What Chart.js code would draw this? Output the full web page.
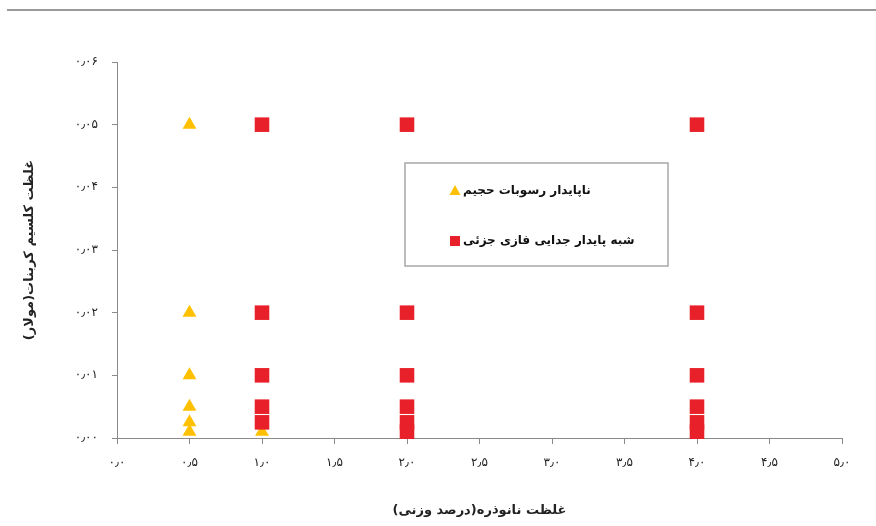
<!DOCTYPE html>
<html><head><meta charset="utf-8">
<script src="https://cdn.jsdelivr.net/npm/chart.js@4"></script>
<style>
html,body{margin:0;padding:0;background:#fff;}
#wrap{position:relative;width:876px;height:526px;}
canvas{display:block;}
</style>
</head><body>
<div id="wrap"><canvas id="c" width="876" height="526" dir="rtl"></canvas></div>
<script>
const xTickLabels = ['۰٫۰','۰٫۵','۱٫۰','۱٫۵','۲٫۰','۲٫۵','۳٫۰','۳٫۵','۴٫۰','۴٫۵','۵٫۰'];
const yTickLabels = ['۰٫۰۰','۰٫۰۱','۰٫۰۲','۰٫۰۳','۰٫۰۴','۰٫۰۵','۰٫۰۶'];
const seriesNames = ['ناپایدار رسوبات حجیم','شبه پایدار جدایی فازی جزئی'];
const xTitle = 'غلظت نانوذره(درصد وزنی)';
const yTitle = 'غلظت کلسیم کربنات(مولار)';

const unstableX = [0.5, 0.5, 0.5, 0.5, 0.5, 0.5, 1.0];
const unstableY = [0.05, 0.02, 0.01, 0.005, 0.0025, 0.001, 0.001];
const metaX = [1, 1, 1, 1, 1, 2, 2, 2, 2, 2, 2, 4, 4, 4, 4, 4, 4];
const metaY = [0.05, 0.02, 0.01, 0.005, 0.0025, 0.05, 0.02, 0.01, 0.005, 0.0025, 0.001, 0.05, 0.02, 0.01, 0.005, 0.0025, 0.001];

const YELLOW = '#FFC000';
const RED = '#E8202A';
const FONT = "'DejaVu Sans', sans-serif";

const toPts = (xs, ys) => xs.map((x, i) => ({x: x, y: ys[i]}));

const legendPlugin = {
  id: 'boxLegend',
  afterDraw(chart) {
    const ctx = chart.ctx;
    ctx.save();
    // top rule
    ctx.strokeStyle = '#9a9a9a';
    ctx.lineWidth = 2;
    ctx.beginPath(); ctx.moveTo(7, 10); ctx.lineTo(876, 10); ctx.stroke();
    // legend box
    ctx.strokeStyle = '#a8a8a8';
    ctx.lineWidth = 1.5;
    ctx.fillStyle = '#fff';
    ctx.fillRect(405, 163, 263, 103);
    ctx.strokeRect(405, 163, 263, 103);
    // markers
    const ty = 191, sy = 241, mx = 455;
    ctx.fillStyle = YELLOW;
    ctx.beginPath();
    ctx.moveTo(mx, ty - 6); ctx.lineTo(mx + 5.5, ty + 4); ctx.lineTo(mx - 5.5, ty + 4); ctx.closePath(); ctx.fill();
    ctx.fillStyle = RED;
    ctx.fillRect(mx - 5, sy - 5, 10, 10);
    // text
    ctx.fillStyle = '#111';
    ctx.font = "bold 12px " + FONT;
    ctx.direction = 'rtl';
    ctx.textAlign = 'left';
    ctx.textBaseline = 'middle';
    ctx.fillText(seriesNames[0], 463, ty);
    ctx.fillText(seriesNames[1], 463, sy);
    ctx.restore();
  }
};

new Chart(document.getElementById('c'), {
  type: 'scatter',
  data: {
    datasets: [
      {label: seriesNames[0], data: toPts(unstableX, unstableY), pointStyle: 'triangle', pointRadius: 8, pointHoverRadius: 8,
       backgroundColor: YELLOW, borderColor: YELLOW, borderWidth: 0, order: 2, clip: false},
      {label: seriesNames[1], data: toPts(metaX, metaY), pointStyle: 'rect', pointRadius: 10.3, pointHoverRadius: 10.3,
       backgroundColor: RED, borderColor: RED, borderWidth: 0, order: 1, clip: false}
    ]
  },
  options: {
    responsive: false,
    animation: false,
    events: [],
    layout: {padding: {top: 62, right: 34, left: 0, bottom: 0}},
    plugins: {legend: {display: false}, tooltip: {enabled: false}},
    scales: {
      x: {
        type: 'linear', min: 0, max: 5,
        ticks: {stepSize: 0.5, autoSkip: false, maxRotation: 0, padding: 12, color: '#222',
                font: {family: FONT, size: 12}, callback: (v, i) => xTickLabels[i]},
        grid: {display: true, drawOnChartArea: false, drawTicks: true, tickLength: 6, color: '#8a8a8a'},
        border: {display: true, color: '#8a8a8a', width: 1},
        title: {display: true, text: xTitle, color: '#222', font: {family: FONT, size: 13, weight: 'bold'}, padding: {top: 0, bottom: 8}},
        afterFit: s => { s.height = 88; }
      },
      y: {
        type: 'linear', min: 0, max: 0.06,
        ticks: {stepSize: 0.01, autoSkip: false, padding: 14, color: '#222',
                font: {family: FONT, size: 12}, callback: (v, i) => yTickLabels[i]},
        grid: {display: true, drawOnChartArea: false, drawTicks: true, tickLength: 5, color: '#8a8a8a'},
        border: {display: true, color: '#8a8a8a', width: 1},
        title: {display: true, text: yTitle, color: '#222', font: {family: FONT, size: 13, weight: 'bold'}, padding: {top: 22, bottom: 0}},
        afterFit: s => { s.width = 117; }
      }
    }
  },
  plugins: [legendPlugin]
});
</script>
</body></html>
